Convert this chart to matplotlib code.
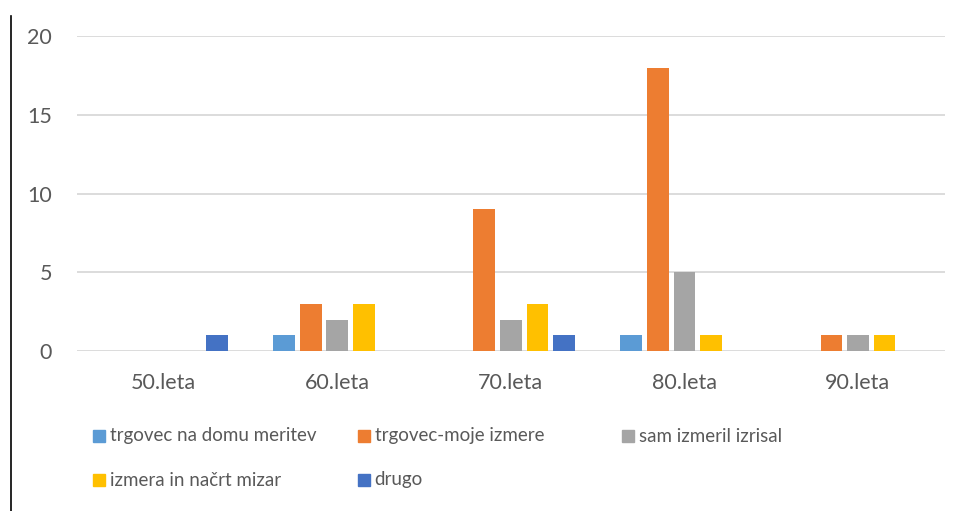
import numpy as np
import matplotlib
matplotlib.use('Agg')
import matplotlib.pyplot as plt
from matplotlib.patches import Rectangle
from matplotlib.lines import Line2D

plt.rcParams['font.family'] = ['Lato', 'DejaVu Sans']

# data
categories = ['50.leta', '60.leta', '70.leta', '80.leta', '90.leta']
series_names = ['trgovec na domu meritev', 'trgovec-moje izmere', 'sam izmeril izrisal',
                'izmera in načrt mizar', 'drugo']
trgovec_domu = [0, 1, 0, 1, 0]
trgovec_moje = [0, 3, 9, 18, 1]
sam_izmeril = [0, 2, 2, 5, 1]
izmera_mizar = [0, 3, 3, 1, 1]
drugo = [1, 0, 1, 0, 0]
colors = ['#5B9BD5', '#ED7D31', '#A5A5A5', '#FFC000', '#4472C4']

all_series = [trgovec_domu, trgovec_moje, sam_izmeril, izmera_mizar, drugo]

fig = plt.figure(figsize=(9.63, 5.11), dpi=100)
ax = fig.add_axes([0.080, 0.313, 0.901, 0.6165])

x = np.arange(len(categories))
slot = 0.153
for i, vals in enumerate(all_series):
    ax.bar(x + (i - 2) * slot, vals, width=slot * 0.82, color=colors[i], zorder=3)

ax.set_xlim(-0.5, len(categories) - 0.5)
ax.set_ylim(0, 20)
ax.set_yticks([0, 5, 10, 15, 20])
ax.set_xticks(x)
ax.set_xticklabels(categories)
ax.tick_params(axis='both', length=0, labelsize=15.5, labelcolor='#595959')
ax.tick_params(axis='y', pad=18)
ax.tick_params(axis='x', pad=16)
ax.grid(axis='y', color='#D9D9D9', linewidth=1.3, zorder=0)
for s in ax.spines.values():
    s.set_visible(False)

# legend, two rows laid out like Excel
for i, name in enumerate(series_names):
    col, row = i % 3, i // 3
    lx = 93 / 963 + col * 264.5 / 963
    ly = 1 - (436 + row * 44) / 511
    fig.add_artist(Rectangle((lx, ly - 6 / 511), 12 / 963, 12 / 511,
                             transform=fig.transFigure, color=colors[i]))
    fig.text(lx + 17 / 963, ly, name, fontsize=13.5, color='#595959', va='center')

# border line on the left
fig.add_artist(Line2D([11 / 963, 11 / 963], [0, 1 - 16 / 511], transform=fig.transFigure,
                      color='black', linewidth=1.2))

fig.savefig('out.png', dpi=100)
